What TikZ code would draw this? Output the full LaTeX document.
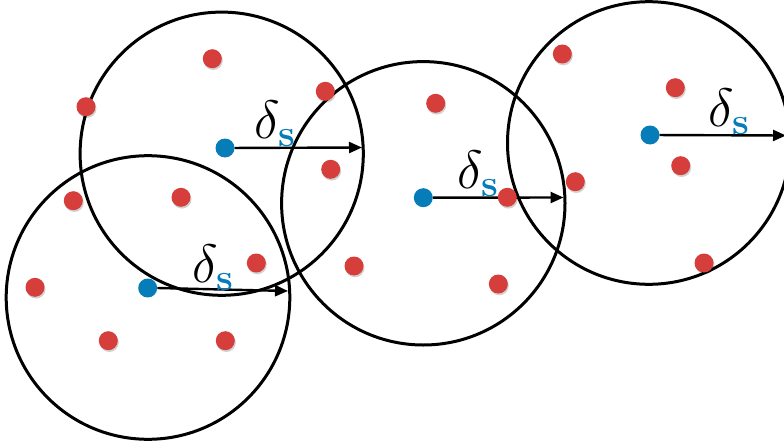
\RequirePackage{fix-cm}
\documentclass[tikz,border=0pt]{standalone}
\usetikzlibrary{arrows.meta}
\definecolor{dotred}{RGB}{213,62,58}
\definecolor{dotblue}{RGB}{6,124,184}
\begin{document}
\begin{tikzpicture}[x=1pt,y=-1pt,
  ring/.style={draw=black,line width=3pt},
  reddot/.style={circle,fill=dotred,inner sep=0pt,minimum size=19pt},
  bluedot/.style={circle,fill=dotblue,inner sep=0pt,minimum size=19pt},
  radius arrow/.style={line width=2.4pt,-{Triangle[length=13pt,width=11pt]}},
  lbl/.style={inner sep=0pt,font=\fontsize{54}{60}\selectfont}]
\useasboundingbox (0,0) rectangle (784,444);
% circles
\draw[ring] (221.7,153.7) circle (141.6);
\draw[ring] (148,297.5) circle (141.8);
\draw[ring] (423.3,203.3) circle (141.7);
\draw[ring] (648.8,143) circle (141.3);
% arrow tips
\coordinate (t1) at (362,147.5);
\coordinate (t2) at (288,291);
\coordinate (t3) at (563.5,197.5);
\coordinate (t4) at (786,135.5);
% blue dots
\node[bluedot] (b1) at (225,148) {};
\node[bluedot] (b2) at (147.7,288) {};
\node[bluedot] (b3) at (423.3,197.7) {};
\node[bluedot] (b4) at (650,135) {};
\draw[radius arrow] (b1) -- (t1);
\draw[radius arrow] (b2.east) -- (t2);
\draw[radius arrow] (b3) -- (t3);
\draw[radius arrow] (b4) -- (t4);
% shadows
\foreach \x/\y in {212.3/58.7,86/106.7,325.3/91.3,330.7/169.3,181/197.3,73.3/200.7,256.3/263,35/287.3,108.3/340.7,225.3/340.7,354/266,435.7/103.3,507.3/197.3,575.3/181.7,498.3/284,562.3/54,675.3/87.7,680.7/165.7,704/263}
  \fill[black,opacity=0.18] (\x+1,\y+1.8) circle (9.5);
% red dots
\node[reddot] (r1) at (212.3,58.7) {};
\node[reddot] (r2) at (86,106.7) {};
\node[reddot] (r3) at (325.3,91.3) {};
\node[reddot] (r4) at (330.7,169.3) {};
\node[reddot] (r5) at (181,197.3) {};
\node[reddot] (r6) at (73.3,200.7) {};
\node[reddot] (r7) at (256.3,263) {};
\node[reddot] (r8) at (35,287.3) {};
\node[reddot] (r9) at (108.3,340.7) {};
\node[reddot] (r10) at (225.3,340.7) {};
\node[reddot] (r11) at (354,266) {};
\node[reddot] (r12) at (435.7,103.3) {};
\node[reddot] (r13) at (507.3,197.3) {};
\node[reddot] (r14) at (575.3,181.7) {};
\node[reddot] (r15) at (498.3,284) {};
\node[reddot] (r16) at (562.3,54) {};
\node[reddot] (r17) at (675.3,87.7) {};
\node[reddot] (r18) at (680.7,165.7) {};
\node[reddot] (r19) at (704,263) {};
% labels
\node[lbl] (l1) at (275,124) {$\delta_{\textcolor{dotblue}{\mathbf{s}}}$};
\node[lbl] (l2) at (213,268) {$\delta_{\textcolor{dotblue}{\mathbf{s}}}$};
\node[lbl] (l3) at (478,174) {$\delta_{\textcolor{dotblue}{\mathbf{s}}}$};
\node[lbl] (l4) at (729,112) {$\delta_{\textcolor{dotblue}{\mathbf{s}}}$};
\end{tikzpicture}
\end{document}
